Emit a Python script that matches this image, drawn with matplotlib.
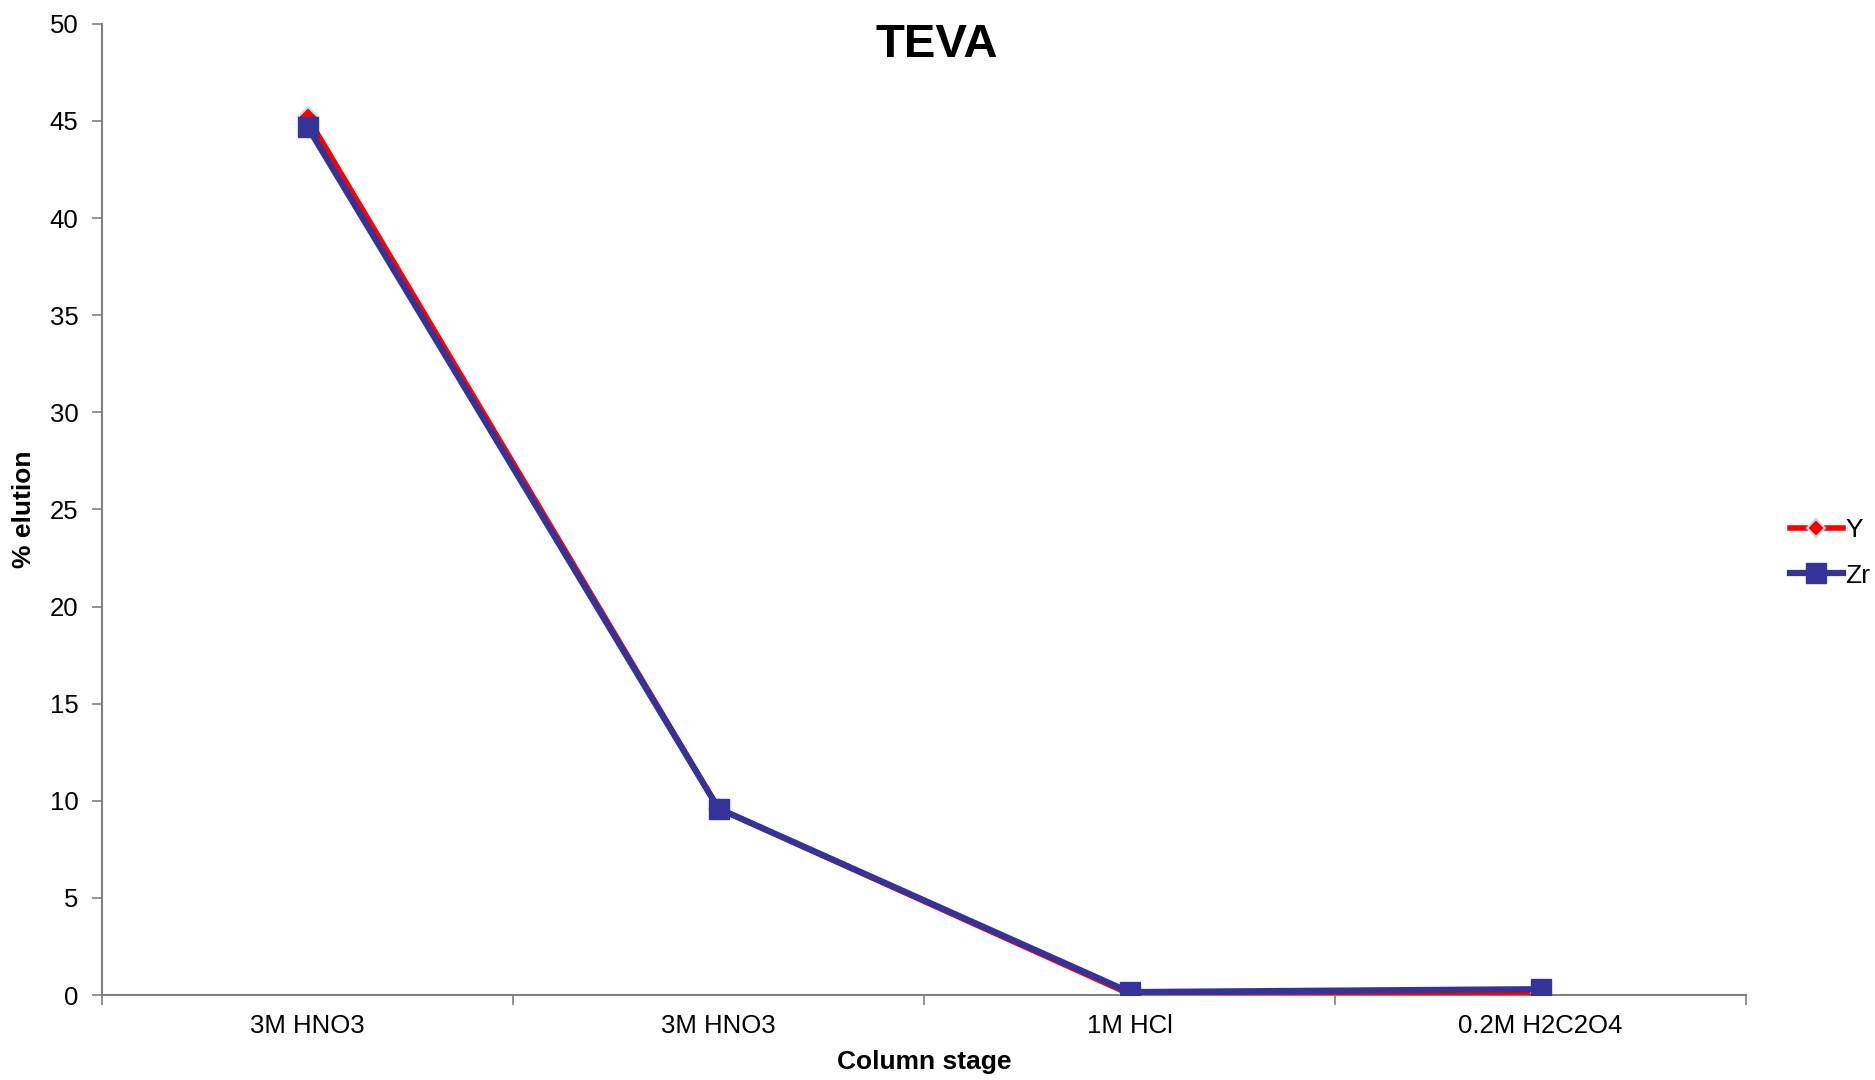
import matplotlib
matplotlib.use("Agg")
import matplotlib.pyplot as plt

plt.rcParams['font.family'] = ['Liberation Sans', 'DejaVu Sans']

stages = ["3M HNO3", "3M HNO3", "1M HCl", "0.2M H2C2O4"]
y_elution = [45.2, 9.6, 0.05, 0.1]
zr_elution = [44.7, 9.6, 0.15, 0.3]
y_ticks = [0, 5, 10, 15, 20, 25, 30, 35, 40, 45, 50]

fig = plt.figure(figsize=(18.75, 10.8), dpi=100)
ax = fig.add_axes([0.0544, 0.0787, 0.8768, 0.8993])

x = list(range(len(stages)))
ax.plot(x, y_elution, color='#FF0000', lw=4, marker='D', markersize=10,
        markerfacecolor='#FF0000', markeredgecolor='#B7E4E8', markeredgewidth=1.5,
        label='Y', zorder=3)
ax.plot(x, zr_elution, color='#333399', lw=4.5, marker='s', markersize=15,
        markerfacecolor='#333399', markeredgecolor='#333399',
        label='Zr', zorder=4)

ax.set_xlim(-0.5, len(stages) - 0.5)
ax.set_ylim(0, 50)
ax.set_yticks(y_ticks)
ax.set_yticklabels([str(v) for v in y_ticks], fontsize=18.5)
ax.set_xticks(x)
ax.set_xticklabels(stages, fontsize=18.5)
ax.tick_params(axis='x', length=0, pad=14)
ax.set_xticks([i - 0.5 for i in range(len(stages) + 1)], minor=True)
ax.tick_params(axis='x', which='minor', length=7, color='#808080', width=1.2, direction='out')
ax.tick_params(axis='y', length=7, color='#808080', width=1.2, direction='out', pad=10)

for side in ('top', 'right'):
    ax.spines[side].set_visible(False)
for side in ('left', 'bottom'):
    ax.spines[side].set_color('#808080')
    ax.spines[side].set_linewidth(1.5)

ax.set_xlabel('Column stage', fontsize=19, fontweight='bold', labelpad=8)
ax.set_ylabel('% elution', fontsize=19, fontweight='bold', labelpad=10,
              family=['Liberation Sans Narrow', 'Liberation Sans'])
fig.text(0.4995, 0.958, 'TEVA', fontsize=34, fontweight='bold', ha='center', va='center')

leg = fig.legend(loc='center left', bbox_to_anchor=(0.942, 0.488), frameon=False,
                 fontsize=19, handlelength=2.0, handletextpad=0.1, labelspacing=0.8)
for h in leg.legend_handles:
    h.set_markersize(h.get_markersize() * 0.95)

fig.savefig('out.png', dpi=100)
